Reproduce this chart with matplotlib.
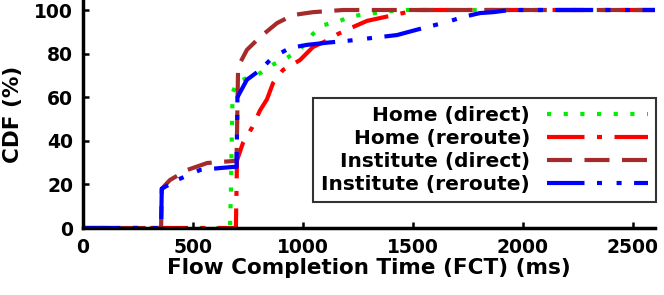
import matplotlib
matplotlib.use('Agg')
import matplotlib.pyplot as plt

# CDF curves (x in ms, y in %)
home_direct_x = [0, 668, 672, 676, 680, 700, 805, 864, 927, 986, 1045, 1091, 1168, 1214, 1350, 1441, 2600]
home_direct_y = [0, 0, 15, 40, 62, 67, 71, 75, 78, 82, 89, 93, 95, 97, 99, 100, 100]

home_reroute_x = [0, 695, 700, 727, 768, 805, 836, 864, 909, 986, 1045, 1109, 1159, 1223, 1291, 1427, 1518, 2600]
home_reroute_y = [0, 0, 31, 39, 46, 54, 59, 66.5, 72.5, 77, 83, 86, 89, 92, 95, 98, 100, 100]

inst_direct_x = [0, 355, 358, 395, 473, 564, 623, 682, 698, 705, 745, 805, 882, 955, 1045, 1182, 2600]
inst_direct_y = [0, 0, 18, 22, 26.6, 29.8, 30.3, 30.7, 31, 74, 81.7, 87.6, 94, 97.7, 99, 100, 100]

inst_reroute_x = [0, 355, 358, 427, 532, 623, 682, 698, 702, 745, 805, 864, 941, 1018, 1109, 1214,
                  1350, 1427, 1545, 1655, 1727, 1805, 1864, 1941, 2600]
inst_reroute_y = [0, 0, 18, 22, 26.6, 27.5, 28, 28, 60, 68, 72.5, 78.4, 82.6, 84, 85, 86,
                  87.6, 88.5, 91.7, 94.5, 96.8, 98.6, 99, 100, 100]

labels = ['Home (direct)', 'Home (reroute)', 'Institute (direct)', 'Institute (reroute)']
xticks = [0, 500, 1000, 1500, 2000, 2500]
yticks = [0, 20, 40, 60, 80, 100]

plt.rcParams['font.family'] = ['DejaVu Sans']
plt.rcParams['font.weight'] = 'bold'

fig = plt.figure(figsize=(6.64, 2.95), dpi=100)
ax = fig.add_axes([83 / 664, 1 - 228 / 295, (655 - 83) / 664, 228 / 295])

lw = 3
ax.plot(home_direct_x, home_direct_y, color='#00ee00', lw=lw, dashes=(1, 3), label=labels[0])
ax.plot(home_reroute_x, home_reroute_y, color='#ff0000', lw=lw, dashes=(9, 3, 1.2, 3), label=labels[1])
ax.plot(inst_direct_x, inst_direct_y, color='#a52a2a', lw=lw, dashes=(6, 3), label=labels[2])
ax.plot(inst_reroute_x, inst_reroute_y, color='#0000ff', lw=lw, dashes=(9, 3, 1.2, 3.5, 1.2, 3), label=labels[3])

ax.set_xlim(0, 2600)
ax.set_ylim(0, 100 * 228 / 218)
ax.set_xticks(xticks)
ax.set_yticks(yticks)
ax.tick_params(direction='in', length=4.5, width=1.8, labelsize=13.5, pad=7)
for s in ['top', 'right']:
    ax.spines[s].set_visible(False)
for s in ['left', 'bottom']:
    ax.spines[s].set_linewidth(2.5)
    ax.spines[s].set_zorder(3)
for t in ax.get_xticklabels() + ax.get_yticklabels():
    t.set_fontweight('bold')

ax.set_xlabel('Flow Completion Time (FCT) (ms)', fontsize=15.5, fontweight='bold', labelpad=1)
ax.set_ylabel('CDF (%)', fontsize=15.5, fontweight='bold', labelpad=8)

leg = ax.legend(loc='upper right', bbox_to_anchor=(656 / 664, 1 - 98 / 295),
                bbox_transform=fig.transFigure, borderaxespad=0,
                markerfirst=False, fancybox=False, frameon=True,
                prop={'size': 14.5, 'weight': 'bold'},
                handlelength=5.0, handletextpad=0.85, labelspacing=0.2,
                borderpad=0.4)
leg.get_frame().set_edgecolor('black')
leg.get_frame().set_linewidth(1.5)

fig.savefig('out.png', dpi=100)
